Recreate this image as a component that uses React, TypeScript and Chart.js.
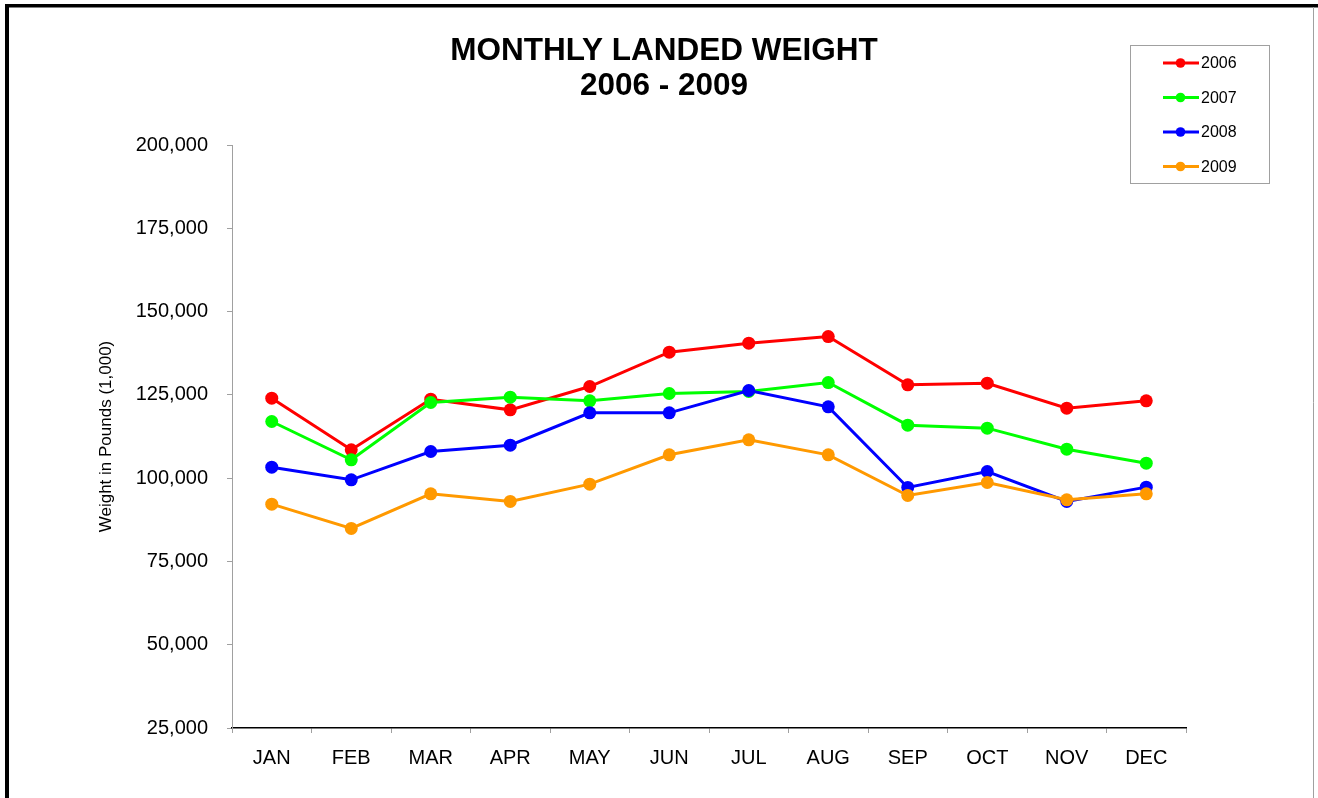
import React, { useEffect, useRef } from "react";
import { Chart, registerables } from "chart.js";

Chart.register(...registerables);

const months = ["JAN", "FEB", "MAR", "APR", "MAY", "JUN", "JUL", "AUG", "SEP", "OCT", "NOV", "DEC"];

const series2006 = [124000, 108500, 123700, 120500, 127500, 137800, 140500, 142500, 128000, 128500, 121000, 123200];
const series2007 = [117000, 105500, 122700, 124300, 123200, 125400, 126000, 128700, 115900, 115000, 108700, 104500];
const series2008 = [103300, 99500, 108000, 109900, 119600, 119600, 126300, 121400, 97200, 102000, 93000, 97300];
const series2009 = [92200, 84900, 95300, 93000, 98200, 107000, 111500, 107000, 94800, 98700, 93500, 95300];

const seriesLabels = ["2006", "2007", "2008", "2009"];
const seriesColors = ["#ff0000", "#00ff00", "#0000ff", "#ff9900"];
const seriesValues = [series2006, series2007, series2008, series2009];

const titleLines = ["MONTHLY LANDED WEIGHT", "2006 - 2009"];
const yAxisTitle = "Weight in Pounds (1,000)";
const yMin = 25000;
const yMax = 200000;
const yStep = 25000;

const FONT = "'Liberation Sans', Arial, Helvetica, sans-serif";

const decorPlugin = {
  id: "decor",
  beforeDraw(chart: any) {
    const ctx = chart.ctx;
    ctx.save();
    ctx.fillStyle = "#ffffff";
    ctx.fillRect(0, 0, chart.width, chart.height);
    ctx.fillStyle = "#000000";
    ctx.fillRect(5, 4, 4, chart.height - 4);
    ctx.fillRect(5, 4, chart.width - 5, 3.5);
    ctx.strokeStyle = "#a0a0a0";
    ctx.lineWidth = 1;
    ctx.beginPath();
    ctx.moveTo(1313.5, 7);
    ctx.lineTo(1313.5, chart.height);
    ctx.stroke();
    ctx.restore();
  },
  afterDraw(chart: any) {
    const ctx = chart.ctx;
    ctx.save();
    // title
    ctx.fillStyle = "#000000";
    ctx.font = `bold 31.5px ${FONT}`;
    ctx.textAlign = "center";
    ctx.textBaseline = "middle";
    ctx.fillText(titleLines[0], 664, 51);
    ctx.fillText(titleLines[1], 664, 86);
    // legend
    ctx.strokeStyle = "#a0a0a0";
    ctx.lineWidth = 1;
    ctx.strokeRect(1130.5, 45.5, 139, 138);
    ctx.font = `16px ${FONT}`;
    ctx.textAlign = "left";
    const rowY = [63, 97.5, 132, 166.5];
    seriesLabels.forEach((lab, i) => {
      const y = rowY[i];
      ctx.strokeStyle = seriesColors[i];
      ctx.lineWidth = 3;
      ctx.beginPath();
      ctx.moveTo(1163, y);
      ctx.lineTo(1199, y);
      ctx.stroke();
      ctx.fillStyle = seriesColors[i];
      ctx.beginPath();
      ctx.arc(1180.5, y, 4.8, 0, Math.PI * 2);
      ctx.fill();
      ctx.fillStyle = "#000000";
      ctx.fillText(lab, 1201, y + 1);
    });
    ctx.restore();
  },
};

export default function App() {
  const ref = useRef<HTMLCanvasElement | null>(null);

  useEffect(() => {
    if (!ref.current) return;
    const chart = new Chart(ref.current, {
      type: "line",
      data: {
        labels: months,
        datasets: seriesValues.map((vals, i) => ({
          label: seriesLabels[i],
          data: vals,
          order: seriesValues.length - 1 - i,
          borderColor: seriesColors[i],
          backgroundColor: seriesColors[i],
          borderWidth: 3,
          pointRadius: 6.5,
          pointHoverRadius: 6.5,
          pointBorderWidth: 0,
          tension: 0,
          fill: false,
        })),
      },
      options: {
        responsive: false,
        animation: false,
        maintainAspectRatio: false,
        layout: { padding: { left: 0, top: 145, right: 132, bottom: 20 } },
        plugins: {
          legend: { display: false },
          title: { display: false },
          tooltip: { enabled: false },
        },
        scales: {
          x: {
            type: "category",
            offset: true,
            afterFit: (s: any) => {
              s.height = 50;
            },
            grid: {
              display: true,
              drawOnChartArea: false,
              drawTicks: true,
              tickLength: 5,
              offset: true,
              color: "#a0a0a0",
            },
            border: { display: true, color: "#000000", width: 1.5 },
            ticks: {
              color: "#000000",
              font: { family: FONT, size: 20 },
              padding: 13,
              maxRotation: 0,
              autoSkip: false,
            },
          },
          y: {
            type: "linear",
            min: yMin,
            max: yMax,
            afterFit: (s: any) => {
              s.width = 232;
            },
            grid: {
              display: true,
              drawOnChartArea: false,
              drawTicks: true,
              tickLength: 5,
              color: "#a0a0a0",
            },
            border: { display: true, color: "#a0a0a0", width: 1 },
            ticks: {
              stepSize: yStep,
              color: "#000000",
              font: { family: FONT, size: 20 },
              padding: 19,
              callback: (v: any) => Number(v).toLocaleString("en-US"),
            },
            title: {
              display: true,
              text: yAxisTitle,
              color: "#000000",
              font: { family: FONT, size: 17 },
              padding: { top: 96, bottom: 0 },
            },
          },
        },
      },
      plugins: [decorPlugin],
    });
    return () => chart.destroy();
  }, []);

  return (
    <div style={{ position: "absolute", left: 0, top: 0, width: 1318, height: 798 }}>
      <canvas ref={ref} width={1318} height={798} style={{ display: "block", width: 1318, height: 798 }} />
    </div>
  );
}
